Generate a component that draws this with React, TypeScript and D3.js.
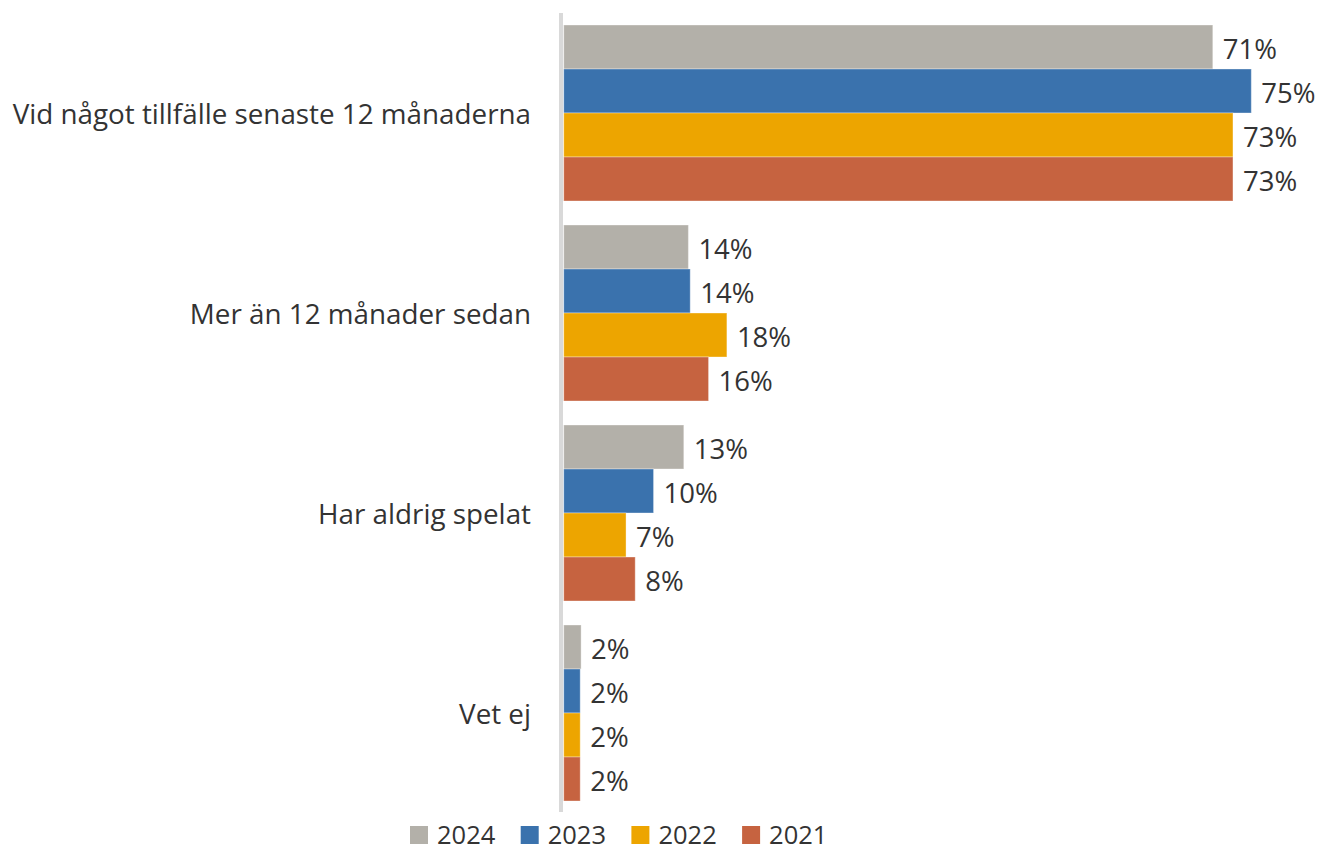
import React from 'react';
import * as d3 from 'd3';

const categories = [
  'Vid något tillfälle senaste 12 månaderna',
  'Mer än 12 månader sedan',
  'Har aldrig spelat',
  'Vet ej',
];

const seriesNames = ['2024', '2023', '2022', '2021'];

// values per category, one array per year (share of respondents)
const values2024 = [0.708, 0.136, 0.131, 0.019];
const values2023 = [0.75, 0.138, 0.098, 0.018];
const values2022 = [0.73, 0.178, 0.068, 0.018];
const values2021 = [0.73, 0.158, 0.078, 0.018];

const seriesValues = [values2024, values2023, values2022, values2021];
const seriesColors = ['#b3b0a9', '#3a72ad', '#eda500', '#c66340'];

const width = 1322;
const height = 850;
const font = "'Open Sans', 'Noto Sans', sans-serif";
const textColor = '#333333';

const App: React.FC = () => {
  const x0 = 563.7;
  const xScale = d3.scaleLinear().domain([0, 1]).range([x0, x0 + 916.8]);

  const yScale = d3.scaleBand<string>()
    .domain(categories)
    .range([13, 813])
    .paddingInner(0.12)
    .paddingOuter(0.06);

  const inner = d3.scaleBand<string>()
    .domain(seriesNames)
    .range([0, yScale.bandwidth()]);

  const fmt = d3.format('.0%');

  // Legend
  const legendX = 410;
  const legendStep = 110.7;
  const legendY = 826;

  return (
    <svg
      width={width}
      height={height}
      style={{ position: 'absolute', left: 0, top: 0, background: '#fff' }}
      fontFamily={font}
    >
      {/* category axis line */}
      <line x1={561} x2={561} y1={13} y2={812} stroke="#d9d9d9" strokeWidth={4} />

      {categories.map((cat, ci) => {
        const y = yScale(cat) as number;
        return (
          <g key={cat}>
            <text
              x={531}
              y={y + yScale.bandwidth() / 2}
              textAnchor="end"
              dominantBaseline="central"
              fontSize={27.8}
              fill={textColor}
            >
              {cat}
            </text>
            {seriesNames.map((s, si) => {
              const v = seriesValues[si][ci];
              const by = y + (inner(s) as number);
              return (
                <g key={s}>
                  <rect
                    x={xScale(0)}
                    y={by}
                    width={xScale(v) - xScale(0)}
                    height={inner.bandwidth()}
                    fill={seriesColors[si]}
                    stroke="#ffffff"
                    strokeOpacity={0.35}
                    strokeWidth={1}
                  />
                  <text
                    x={xScale(v) + 10}
                    y={by + inner.bandwidth() / 2 + 1}
                    dominantBaseline="central"
                    fontSize={27.5}
                    fill={textColor}
                  >
                    {fmt(v)}
                  </text>
                </g>
              );
            })}
          </g>
        );
      })}

      {seriesNames.map((s, i) => (
        <g key={s} transform={`translate(${legendX + i * legendStep},${legendY})`}>
          <rect width={18} height={18} fill={seriesColors[i]} />
          <text x={27} y={17.5} fontSize={25.5} fill={textColor}>
            {s}
          </text>
        </g>
      ))}
    </svg>
  );
};

export default App;
